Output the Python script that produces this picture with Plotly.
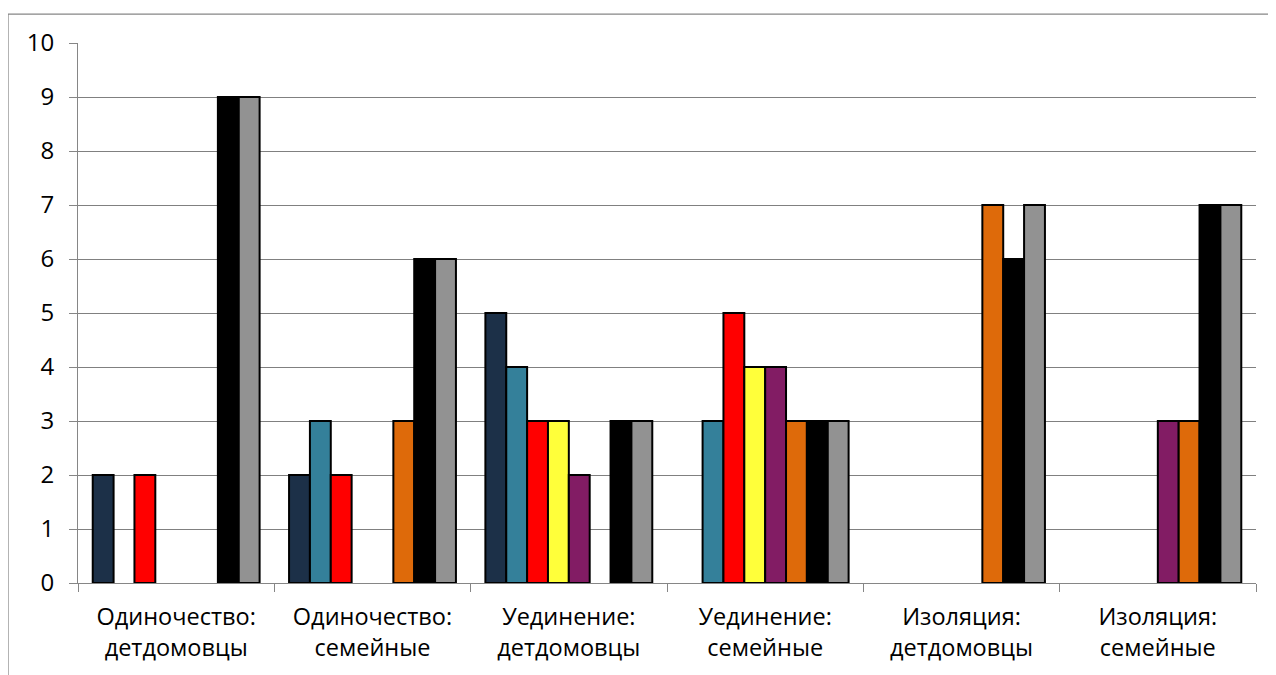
import plotly.graph_objects as go

categories = [
    "Одиночество:<br>детдомовцы",
    "Одиночество:<br>семейные",
    "Уединение:<br>детдомовцы",
    "Уединение:<br>семейные",
    "Изоляция:<br>детдомовцы",
    "Изоляция:<br>семейные",
]

series_names = ["Ряд 1", "Ряд 2", "Ряд 3", "Ряд 4", "Ряд 5", "Ряд 6", "Ряд 7", "Ряд 8"]
series_values = [
    [2, 2, 5, 0, 0, 0],   # navy
    [0, 3, 4, 3, 0, 0],   # teal
    [2, 2, 3, 5, 0, 0],   # red
    [0, 0, 3, 4, 0, 0],   # yellow
    [0, 0, 2, 4, 0, 3],   # purple
    [0, 3, 0, 3, 7, 3],   # orange
    [9, 6, 3, 3, 6, 7],   # black
    [9, 6, 3, 3, 7, 7],   # gray
]
series_colors = ["#1C3048", "#34809A", "#FF0000", "#FFFF3A",
                 "#821C64", "#DE6A0A", "#000000", "#929292"]

y_ticks = list(range(0, 11))

fig = go.Figure()
for name, vals, col in zip(series_names, series_values, series_colors):
    # zero-height bars are not drawn (no outline on the axis)
    shown = [v if v != 0 else None for v in vals]
    fig.add_trace(go.Bar(
        x=categories, y=shown, name=name,
        marker=dict(color=col, line=dict(color="#000000", width=2)),
    ))

font_family = "'Open Sans', Lato, sans-serif"

fig.update_layout(
    width=1268, height=667,
    margin=dict(l=70, r=20, t=35, b=90),
    paper_bgcolor="white", plot_bgcolor="white",
    barmode="group", bargap=0.15, bargroupgap=0,
    showlegend=False,
    font=dict(family=font_family, size=23.5, color="#000000"),
    xaxis=dict(
        type="category",
        tickson="boundaries",
        ticks="outside", ticklen=8, tickcolor="#868686", tickwidth=1,
        showline=True, linecolor="#868686", linewidth=1,
        showgrid=False,
        ticklabelstandoff=13,
        tickfont=dict(size=23.5, family=font_family, color="#000000"),
    ),
    yaxis=dict(
        range=[0, 10],
        tickvals=y_ticks,
        ticks="outside", ticklen=8, tickcolor="#868686", tickwidth=1,
        showline=True, linecolor="#868686", linewidth=1,
        showgrid=True, gridcolor="#808080", gridwidth=1.3,
        zeroline=False,
        ticklabelstandoff=10,
        tickfont=dict(size=24, family=font_family, color="#000000"),
    ),
    shapes=[dict(
        type="rect", xref="paper", yref="paper",
        x0=-0.0594, x1=1.03, y0=-0.2, y1=1.0535,
        line=dict(color="#868686", width=1.2), fillcolor="rgba(0,0,0,0)",
        layer="below",
    )],
)

fig.write_html("out.html")
